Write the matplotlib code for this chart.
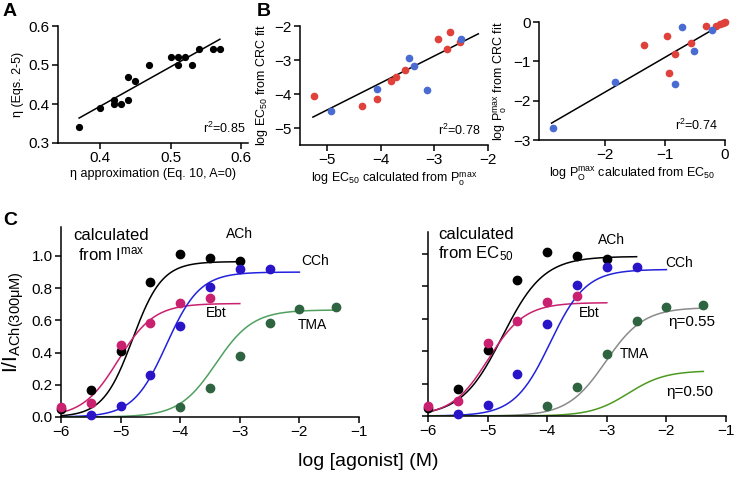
import numpy as np
import matplotlib
matplotlib.use('Agg')
import matplotlib.pyplot as plt

plt.rcParams['font.family'] = ['Liberation Sans', 'DejaVu Sans']
plt.rcParams['mathtext.fontset'] = 'custom'
plt.rcParams['mathtext.rm'] = 'Liberation Sans'
plt.rcParams['mathtext.it'] = 'Liberation Sans:italic'
plt.rcParams['axes.linewidth'] = 1.1

# ---- panel A data
a_x = [0.37, 0.40, 0.42, 0.42, 0.43, 0.44, 0.44, 0.45, 0.47, 0.50, 0.51, 0.51, 0.52, 0.53, 0.54, 0.56, 0.57]
a_y = [0.34, 0.39, 0.41, 0.40, 0.40, 0.47, 0.41, 0.46, 0.50, 0.52, 0.52, 0.50, 0.52, 0.50, 0.54, 0.54, 0.54]
a_fit_x = [0.37, 0.57]
a_fit_y = [0.364, 0.566]

# ---- panel B (left) data
b1_red_x = [-5.24, -4.35, -4.07, -3.81, -3.71, -3.55, -2.94, -2.76, -2.71, -2.53]
b1_red_y = [-4.05, -4.36, -4.14, -3.61, -3.50, -3.29, -2.39, -2.68, -2.19, -2.47]
b1_blue_x = [-4.92, -4.07, -3.47, -3.37, -3.14, -2.50]
b1_blue_y = [-4.51, -3.85, -2.93, -3.19, -3.87, -2.39]
b1_fit_x = [-5.26, -2.18]
b1_fit_y = [-4.68, -2.23]

# ---- panel B (right) data
b2_red_x = [-1.35, -0.96, -0.83, -0.93, -0.56, -0.32, -0.15, -0.08, -0.04, 0.0]
b2_red_y = [-0.58, -0.36, -0.82, -1.29, -0.53, -0.11, -0.09, -0.06, -0.03, -0.01]
b2_blue_x = [-2.86, -1.84, -0.83, -0.51, -0.72, -0.21]
b2_blue_y = [-2.69, -1.52, -1.58, -0.73, -0.12, -0.20]
b2_fit_x = [-2.89, -0.03]
b2_fit_y = [-2.57, -0.04]

# ---- panel C data (log agonist, normalised current)
ach_x = [-6, -5.5, -5, -4.5, -4, -3.5, -3]
ach_y = [0.05, 0.165, 0.41, 0.84, 1.01, 0.99, 0.97]
ebt_x = [-6, -5.5, -5, -4.5, -4, -3.5]
ebt_y = [0.06, 0.09, 0.45, 0.585, 0.705, 0.74]
cch_x = [-5.5, -5, -4.5, -4, -3.5, -3, -2.5]
cch_y = [0.015, 0.07, 0.26, 0.567, 0.81, 0.92, 0.92]
tma_x = [-4, -3.5, -3, -2.5, -2, -1.38]
tma_y = [0.062, 0.18, 0.38, 0.585, 0.67, 0.685]

# Hill curve parameters: top, logEC50, n, x start, x end
left_curves = {
    'ACh': (0.965, -4.80, 1.75, -6, -3),
    'Ebt': (0.705, -5.04, 1.45, -6, -3),
    'CCh': (0.90, -4.23, 1.55, -6, -2),
    'TMA': (0.665, -3.40, 1.40, -6, -1.38),
}
right_curves = {
    'ACh': (0.985, -4.75, 1.26, -6, -2.5),
    'Ebt': (0.70, -4.99, 1.42, -6, -3),
    'CCh': (0.905, -3.95, 1.45, -6, -2),
    'TMA55': (0.67, -3.02, 1.36, -6, -1.38),
    'TMA50': (0.28, -2.64, 1.40, -6, -1.38),
}

BLACK = 'black'
PINK = '#c9206f'
BLUE = '#2a14c8'
BLUE_LINE = '#2222dd'
DGREEN = '#2f6440'
GREEN_L = '#4fa060'
GREEN_R = '#4d9a20'
GRAY = '#8a8a8a'
RED_B = '#e0413a'
BLUE_B = '#4a6bd2'


def hill(top, ec, n, x0, x1):
    x = np.linspace(x0, x1, 300)
    return x, top / (1 + 10 ** ((ec - x) * n))


def style(ax, fs):
    ax.spines['top'].set_visible(False)
    ax.spines['right'].set_visible(False)
    ax.tick_params(direction='out', length=4, width=1.1, labelsize=fs, pad=2)


W, H = 736, 488


def rect(l, t, r, b):
    return [l / W, 1 - b / H, (r - l) / W, (b - t) / H]


fig = plt.figure(figsize=(7.36, 4.88), dpi=100)

# ---------------- A
ax = fig.add_axes(rect(58, 26, 248, 143))
style(ax, 11)
ax.plot(a_x, a_y, 'o', color='black', ms=4.2)
ax.plot(a_fit_x, a_fit_y, '-', color='black', lw=1.1)
ax.set_xlim(0.34, 0.61)
ax.set_ylim(0.3, 0.6)
ax.set_xticks([0.4, 0.5, 0.6])
ax.set_yticks([0.3, 0.4, 0.5, 0.6])
ax.set_xlabel('η approximation (Eq. 10, A=0)', fontsize=9, labelpad=2)
ax.set_ylabel('η (Eqs. 2-5)', fontsize=9, labelpad=3)
ax.text(0.985, 0.06, r'r$^2$=0.85', transform=ax.transAxes, ha='right', va='bottom', fontsize=9)

# ---------------- B left
ax = fig.add_axes(rect(300, 26, 488, 145))
style(ax, 11)
ax.plot(b1_fit_x, b1_fit_y, '-', color='black', lw=1.1)
ax.plot(b1_red_x, b1_red_y, 'o', color=RED_B, ms=4.5)
ax.plot(b1_blue_x, b1_blue_y, 'o', color=BLUE_B, ms=4.5)
ax.set_xlim(-5.5, -2)
ax.set_ylim(-5.5, -2)
ax.set_xticks([-5, -4, -3, -2])
ax.set_yticks([-5, -4, -3, -2])
ax.set_xlabel(r'log EC$_{50}$ calculated from P$_\mathrm{o}^\mathrm{max}$', fontsize=9, labelpad=2)
ax.set_ylabel(r'log EC$_{50}$ from CRC fit', fontsize=9, labelpad=3)
ax.text(0.96, 0.06, r'r$^2$=0.78', transform=ax.transAxes, ha='right', va='bottom', fontsize=9)

# ---------------- B right
ax = fig.add_axes(rect(539, 22, 725, 140))
style(ax, 11)
ax.plot(b2_fit_x, b2_fit_y, '-', color='black', lw=1.1)
ax.plot(b2_red_x, b2_red_y, 'o', color=RED_B, ms=4.5, clip_on=False)
ax.plot(b2_blue_x, b2_blue_y, 'o', color=BLUE_B, ms=4.5, clip_on=False)
ax.set_xlim(-3.1, 0)
ax.set_ylim(-3, 0)
ax.set_xticks([-2, -1, 0])
ax.set_yticks([-3, -2, -1, 0])
ax.set_xlabel(r'log P$_\mathrm{O}^\mathrm{max}$ calculated from EC$_{50}$', fontsize=9, labelpad=2)
ax.set_ylabel(r'log P$_\mathrm{o}^\mathrm{max}$ from CRC fit', fontsize=9, labelpad=3)
ax.text(0.96, 0.06, r'r$^2$=0.74', transform=ax.transAxes, ha='right', va='bottom', fontsize=9)

# ---------------- C left
axL = fig.add_axes(rect(61, 227, 359, 417))
style(axL, 11)
for key, col in [('ACh', BLACK), ('Ebt', PINK), ('CCh', BLUE_LINE), ('TMA', GREEN_L)]:
    x, y = hill(*left_curves[key])
    axL.plot(x, y, '-', color=col, lw=1.1)
axL.plot(ach_x, ach_y, 'o', color=BLACK, ms=6, clip_on=False, zorder=3)
axL.plot(ebt_x, ebt_y, 'o', color=PINK, ms=6, clip_on=False, zorder=3)
axL.plot(cch_x, cch_y, 'o', color=BLUE, ms=6, clip_on=False, zorder=3)
axL.plot(tma_x, tma_y, 'o', color=DGREEN, ms=6, clip_on=False, zorder=3)
axL.set_xlim(-6, -1)
axL.set_ylim(0, 1.18)
axL.set_xticks([-6, -5, -4, -3, -2, -1])
axL.set_yticks([0, 0.2, 0.4, 0.6, 0.8, 1.0])
axL.set_yticklabels(['0.0', '0.2', '0.4', '0.6', '0.8', '1.0'])
axL.set_ylabel(r'I/I$_\mathrm{ACh(300μM)}$', fontsize=15, labelpad=4)
axL.text(-5.16, 1.065, 'calculated\n' + r'from I$^\mathrm{max}$', ha='center', va='center', fontsize=12,
         linespacing=1.15)
axL.text(-3.0, 1.137, 'ACh', ha='center', va='center', fontsize=10)
axL.text(-1.73, 0.97, 'CCh', ha='center', va='center', fontsize=10)
axL.text(-3.39, 0.646, 'Ebt', ha='center', va='center', fontsize=10)
axL.text(-1.78, 0.571, 'TMA', ha='center', va='center', fontsize=10)

# ---------------- C right
axR = fig.add_axes(rect(428, 232, 726, 416))
style(axR, 11)
for key, col in [('ACh', BLACK), ('Ebt', PINK), ('CCh', BLUE_LINE), ('TMA55', GRAY), ('TMA50', GREEN_R)]:
    x, y = hill(*right_curves[key])
    axR.plot(x, y, '-', color=col, lw=1.1)
axR.plot(ach_x, ach_y, 'o', color=BLACK, ms=6, clip_on=False, zorder=3)
axR.plot(ebt_x, ebt_y, 'o', color=PINK, ms=6, clip_on=False, zorder=3)
axR.plot(cch_x, cch_y, 'o', color=BLUE, ms=6, clip_on=False, zorder=3)
axR.plot(tma_x, tma_y, 'o', color=DGREEN, ms=6, clip_on=False, zorder=3)
axR.set_xlim(-6, -1)
axR.set_ylim(0, 1.136)
axR.set_xticks([-6, -5, -4, -3, -2, -1])
axR.set_yticks([0, 0.2, 0.4, 0.6, 0.8, 1.0])
axR.set_yticklabels([])
axR.text(-5.83, 1.056, 'calculated\n' + r'from EC$_{50}$', ha='left', va='center', fontsize=12,
         linespacing=1.15)
axR.text(-2.93, 1.086, 'ACh', ha='center', va='center', fontsize=10)
axR.text(-1.78, 0.944, 'CCh', ha='center', va='center', fontsize=10)
axR.text(-3.29, 0.636, 'Ebt', ha='center', va='center', fontsize=10)
axR.text(-2.53, 0.383, 'TMA', ha='center', va='center', fontsize=10)
axR.text(-1.58, 0.58, 'η=0.55', ha='center', va='center', fontsize=11)
axR.text(-1.61, 0.148, 'η=0.50', ha='center', va='center', fontsize=11)

fig.text(368 / W, 1 - 462 / H, 'log [agonist] (M)', ha='center', va='center', fontsize=14)

# panel letters
fig.text(3 / W, 1 - 3 / H, 'A', ha='left', va='top', fontsize=14, fontweight='bold')
fig.text(257 / W, 1 - 3 / H, 'B', ha='left', va='top', fontsize=14, fontweight='bold')
fig.text(3 / W, 1 - 212 / H, 'C', ha='left', va='top', fontsize=14, fontweight='bold')

fig.savefig('out.png', dpi=100)
